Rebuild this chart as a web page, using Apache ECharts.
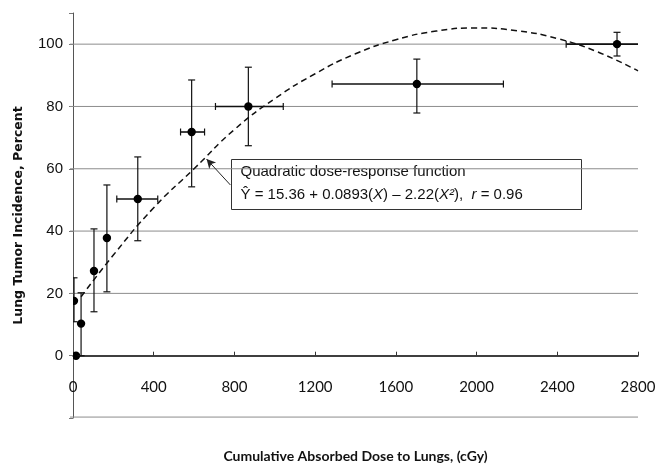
<!DOCTYPE html>
<html><head><meta charset="utf-8">
<script src="https://cdn.jsdelivr.net/npm/echarts@6/dist/echarts.min.js"></script>
<style>html,body{margin:0;padding:0;background:#fff}#c{width:656px;height:466px}</style>
</head><body><div id="c"></div>
<script>
// Observed data points (dose cGy, incidence %)
const doseX   = [5, 15, 40, 104, 168, 321, 588, 869, 1704, 2696];
const incY    = [17.6, 0, 10.3, 27.2, 37.8, 50.3, 71.8, 80, 87.2, 100];
const doseLo  = [5, 15, 40, 104, 168, 217, 533, 706, 1284, 2444];
const doseHi  = [5, 15, 40, 104, 168, 420, 652, 1042, 2133, 2900];
const incLo   = [10.9, 0, 0, 14.1, 20.5, 36.9, 54.2, 67.4, 77.9, 96.2];
const incHi   = [25, 0, 20.2, 40.7, 54.8, 63.8, 88.5, 92.6, 95.2, 103.8];
// Fitted curve
const curveX  = [40, 200, 400, 600, 800, 1000, 1200, 1400, 1600, 1800, 2000, 2200, 2400, 2600, 2800];
const curveY  = [18.9, 32.3, 47.5, 60.0, 72.6, 82.5, 90.5, 96.9, 101.4, 104.2, 105.2, 104.3, 101.8, 97.5, 91.4];
const gridVals = [-19.7, 20, 40, 60, 80, 100];

const chart = echarts.init(document.getElementById('c'));
const errData = doseX.map((x, i) => [x, incY[i], doseLo[i], doseHi[i], incLo[i], incHi[i]]);
const cap = 3.5;
chart.setOption({
  animation: false,
  grid: {left: 73, right: 18, top: 13, bottom: 48, containLabel: false, outerBoundsMode: 'none'},
  xAxis: {
    type: 'value', min: 0, max: 2800, interval: 400,
    axisLine: {onZero: true, lineStyle: {color: '#000', width: 1.5}},
    axisTick: {inside: true, length: 4, lineStyle: {color: '#333'}},
    axisLabel: {margin: -38, color: '#111', fontFamily: 'Lato', fontSize: 15, formatter: v => String(v)},
    splitLine: {show: false},
    name: 'Cumulative Absorbed Dose to Lungs, (cGy)',
    nameLocation: 'middle', nameGap: 31,
    nameTextStyle: {fontFamily: 'Lato', fontWeight: 'bold', fontSize: 14, color: '#111'}
  },
  yAxis: {
    type: 'value', min: -20, max: 110, interval: 20,
    axisLine: {show: true, onZero: false, lineStyle: {color: '#555', width: 1}},
    axisTick: {show: true, length: 4, lineStyle: {color: '#777'}},
    axisLabel: {margin: 10, color: '#111', fontFamily: 'Liberation Sans', fontSize: 15,
      formatter: v => (v >= 0 && v <= 100) ? String(v) : ''},
    splitLine: {show: false},
    name: 'Lung Tumor Incidence, Percent',
    nameLocation: 'middle', nameGap: 48, nameRotate: 90,
    nameTextStyle: {fontFamily: 'DejaVu Sans', fontWeight: 'bold', fontSize: 12.5, color: '#111'}
  },
  series: [
    {
      type: 'custom', clip: false, z: 1, silent: true,
      data: gridVals.map(v => [v]),
      renderItem: function (params, api) {
        const a = api.coord([0, api.value(0)]);
        const b = api.coord([2800, api.value(0)]);
        return {type: 'line', shape: {x1: a[0] - 3, y1: a[1], x2: b[0], y2: b[1]},
                style: {stroke: '#8c8c8c', lineWidth: 1}};
      }
    },
    {
      type: 'line', smooth: true, showSymbol: false, silent: true,
      data: curveX.map((x, i) => [x, curveY[i]]),
      lineStyle: {color: '#111', width: 1.5, type: [6, 4]},
      markLine: {
        silent: true, symbol: ['none', 'arrow'], symbolSize: [7, 9],
        label: {show: false},
        lineStyle: {color: '#222', width: 1, type: 'solid'},
        data: [[{coord: [780, 54.8]}, {coord: [662, 63.1]}]]
      },
      z: 3
    },
    {
      type: 'custom', clip: true, z: 4,
      data: errData,
      renderItem: function (params, api) {
        const c = api.coord([api.value(0), api.value(1)]);
        const xl = api.coord([api.value(2), api.value(1)]);
        const xh = api.coord([api.value(3), api.value(1)]);
        const yl = api.coord([api.value(0), api.value(4)]);
        const yh = api.coord([api.value(0), api.value(5)]);
        const st = {stroke: '#111', lineWidth: 1.2};
        const ch = [];
        if (api.value(5) !== api.value(4)) {
          ch.push({type: 'line', shape: {x1: c[0], y1: yl[1], x2: c[0], y2: yh[1]}, style: st});
          ch.push({type: 'line', shape: {x1: c[0]-cap, y1: yl[1], x2: c[0]+cap, y2: yl[1]}, style: st});
          ch.push({type: 'line', shape: {x1: c[0]-cap, y1: yh[1], x2: c[0]+cap, y2: yh[1]}, style: st});
        }
        if (api.value(3) !== api.value(2)) {
          ch.push({type: 'line', shape: {x1: xl[0], y1: c[1], x2: xh[0], y2: c[1]}, style: {stroke: '#111', lineWidth: 1.6}});
          ch.push({type: 'line', shape: {x1: xl[0], y1: c[1]-cap, x2: xl[0], y2: c[1]+cap}, style: st});
          ch.push({type: 'line', shape: {x1: xh[0], y1: c[1]-cap, x2: xh[0], y2: c[1]+cap}, style: st});
        }
        ch.push({type: 'circle', shape: {cx: c[0], cy: c[1], r: 4.2}, style: {fill: '#000'}});
        return {type: 'group', children: ch};
      }
    }
  ],
  graphic: [
    {
      type: 'group', left: 231, top: 159, z: 10,
      children: [
        {type: 'rect', shape: {x: 0, y: 0, width: 350, height: 50},
         style: {fill: '#fff', stroke: '#333', lineWidth: 1}},
        {type: 'text', x: 9, y: 5,
         style: {text: 'Quadratic dose-response function', fontFamily: 'Liberation Sans', fontSize: 15, fill: '#111'}},
        {type: 'text', x: 9, y: 28,
         style: {
           text: 'Ŷ = 15.36 + 0.0893({i|X}) – 2.22({i|X²}),  {i|r} = 0.96',
           fontFamily: 'Liberation Sans', fontSize: 15, fill: '#111',
           rich: {i: {fontStyle: 'italic', fontFamily: 'Liberation Sans', fontSize: 15, fill: '#111'}}
         }}
      ]
    }
  ]
});
</script></body></html>
